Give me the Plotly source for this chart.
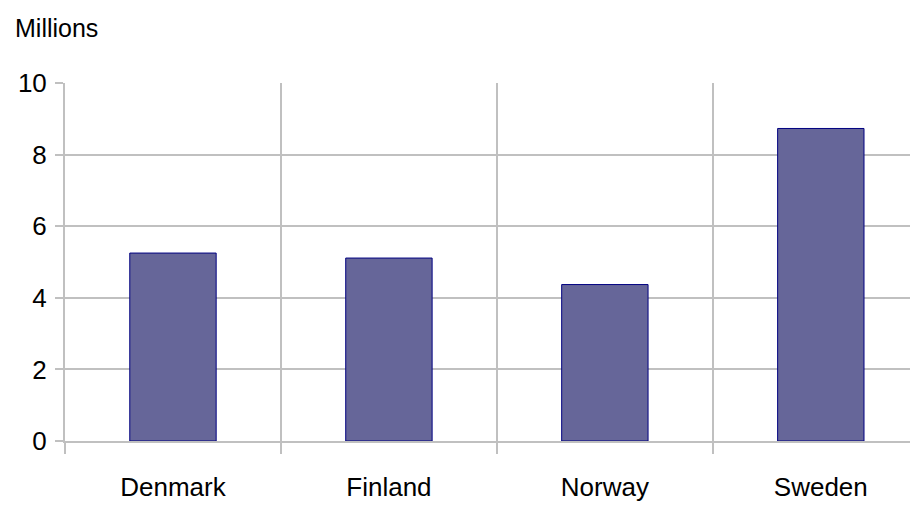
import plotly.graph_objects as go

countries = ["Denmark", "Finland", "Norway", "Sweden"]
population = [5.25, 5.11, 4.37, 8.73]

grid = "#c0c0c0"
font_family = "Liberation Sans, Arial, sans-serif"

# the page body has an 8px default margin; compensate so the plot lands where the reference has it
W, H, OFF = 910, 498, 8

fig = go.Figure(
    go.Bar(
        x=countries,
        y=population,
        width=0.4,
        marker=dict(color="#666699", line=dict(color="#000080", width=1)),
    )
)

fig.update_layout(
    width=W,
    height=H,
    margin=dict(l=65 - OFF, r=0, t=83 - OFF, b=65, autoexpand=False),
    paper_bgcolor="white",
    plot_bgcolor="white",
    showlegend=False,
    font=dict(family=font_family, size=26, color="black"),
    title=dict(
        text="Millions",
        xref="container",
        yref="container",
        x=(15 - OFF) / W,
        y=1 - (28 - OFF) / H,
        xanchor="left",
        yanchor="middle",
        font=dict(family=font_family, size=25, color="black"),
    ),
)

fig.update_xaxes(
    range=[-0.5, 3.45],
    tickson="boundaries",
    showgrid=True,
    gridcolor=grid,
    gridwidth=2,
    showline=True,
    linecolor=grid,
    linewidth=2,
    ticks="outside",
    ticklen=11,
    tickwidth=2,
    tickcolor=grid,
    ticklabelstandoff=22,
    automargin=False,
    tickfont=dict(size=26),
)

fig.update_yaxes(
    range=[0, 10],
    dtick=2,
    showgrid=True,
    gridcolor=grid,
    gridwidth=2,
    zeroline=False,
    showline=True,
    linecolor=grid,
    linewidth=2,
    ticks="outside",
    ticklen=8,
    tickwidth=2,
    tickcolor=grid,
    ticklabelstandoff=3,
    automargin=False,
    tickfont=dict(size=26),
)

fig.write_html("out.html")
